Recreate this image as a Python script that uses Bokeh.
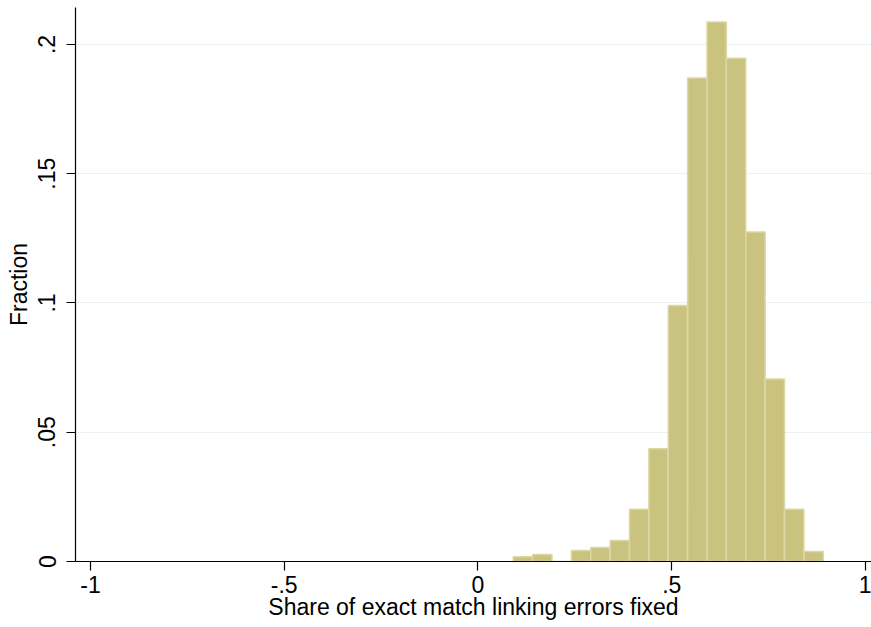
from bokeh.plotting import figure
from bokeh.models import FixedTicker, Range1d
from bokeh.embed import file_html
from bokeh.resources import INLINE

# Histogram data (fraction per bin), bin width 0.05 starting at 0.091
bin_left = [0.091, 0.141, 0.191, 0.241, 0.291, 0.341, 0.391, 0.441,
            0.491, 0.541, 0.591, 0.641, 0.691, 0.741, 0.791, 0.841]
fraction = [0.0018, 0.0027, 0.0, 0.0043, 0.0054, 0.0081, 0.0202, 0.0436,
            0.0990, 0.1870, 0.2087, 0.1947, 0.1275, 0.0706, 0.0202, 0.0039]
bin_width = 0.05

x_ticks = [-1, -0.5, 0, 0.5, 1]
x_tick_labels = ["-1", "-.5", "0", ".5", "1"]
y_ticks = [0, 0.05, 0.1, 0.15, 0.2]
y_tick_labels = ["0", ".05", ".1", ".15", ".2"]

FONT = "Liberation Sans"

p = figure(width=871, height=627, output_backend="svg", toolbar_location=None,
           x_range=Range1d(-1.0387, 1.0155), y_range=Range1d(0, 0.2143),
           min_border_left=75, min_border_right=0, min_border_top=7,
           min_border_bottom=66)

bin_right = [b + bin_width for b in bin_left]
p.quad(left=bin_left, right=bin_right, bottom=0, top=fraction,
       fill_color="#CAC380", line_color="#DCD8A6", line_width=1.5)

p.outline_line_color = None
p.background_fill_color = "white"
p.border_fill_color = "white"

p.xgrid.visible = False
p.ygrid.grid_line_color = "#EAF2F3"
p.ygrid.grid_line_width = 1

p.xaxis.ticker = FixedTicker(ticks=x_ticks)
p.xaxis.major_label_overrides = {t: l for t, l in zip(x_ticks, x_tick_labels)}
p.yaxis.ticker = FixedTicker(ticks=y_ticks)
p.yaxis.major_label_overrides = {t: l for t, l in zip(y_ticks, y_tick_labels)}
p.ygrid.ticker = FixedTicker(ticks=[0.05, 0.1, 0.15, 0.2])

for ax in (p.xaxis, p.yaxis):
    ax.axis_line_color = "black"
    ax.axis_line_width = 1.2
    ax.major_tick_line_color = "black"
    ax.major_tick_line_width = 1.2
    ax.major_tick_out = 9
    ax.major_tick_in = 0
    ax.minor_tick_line_color = None
    ax.major_label_text_font = FONT
    ax.major_label_text_font_size = "23px"
    ax.major_label_text_color = "black"
    ax.axis_label_text_font = FONT
    ax.axis_label_text_font_size = "23px"
    ax.axis_label_text_font_style = "normal"
    ax.axis_label_text_color = "black"

p.xaxis.axis_label = "Share of exact match linking errors fixed"
p.yaxis.axis_label = "Fraction"
p.yaxis.major_label_orientation = "vertical"
p.xaxis.major_label_standoff = 5
p.xaxis.axis_label_standoff = -2
p.yaxis.major_label_standoff = 11
p.yaxis.axis_label_standoff = 4

open("out.html", "w").write(file_html(p, INLINE))
